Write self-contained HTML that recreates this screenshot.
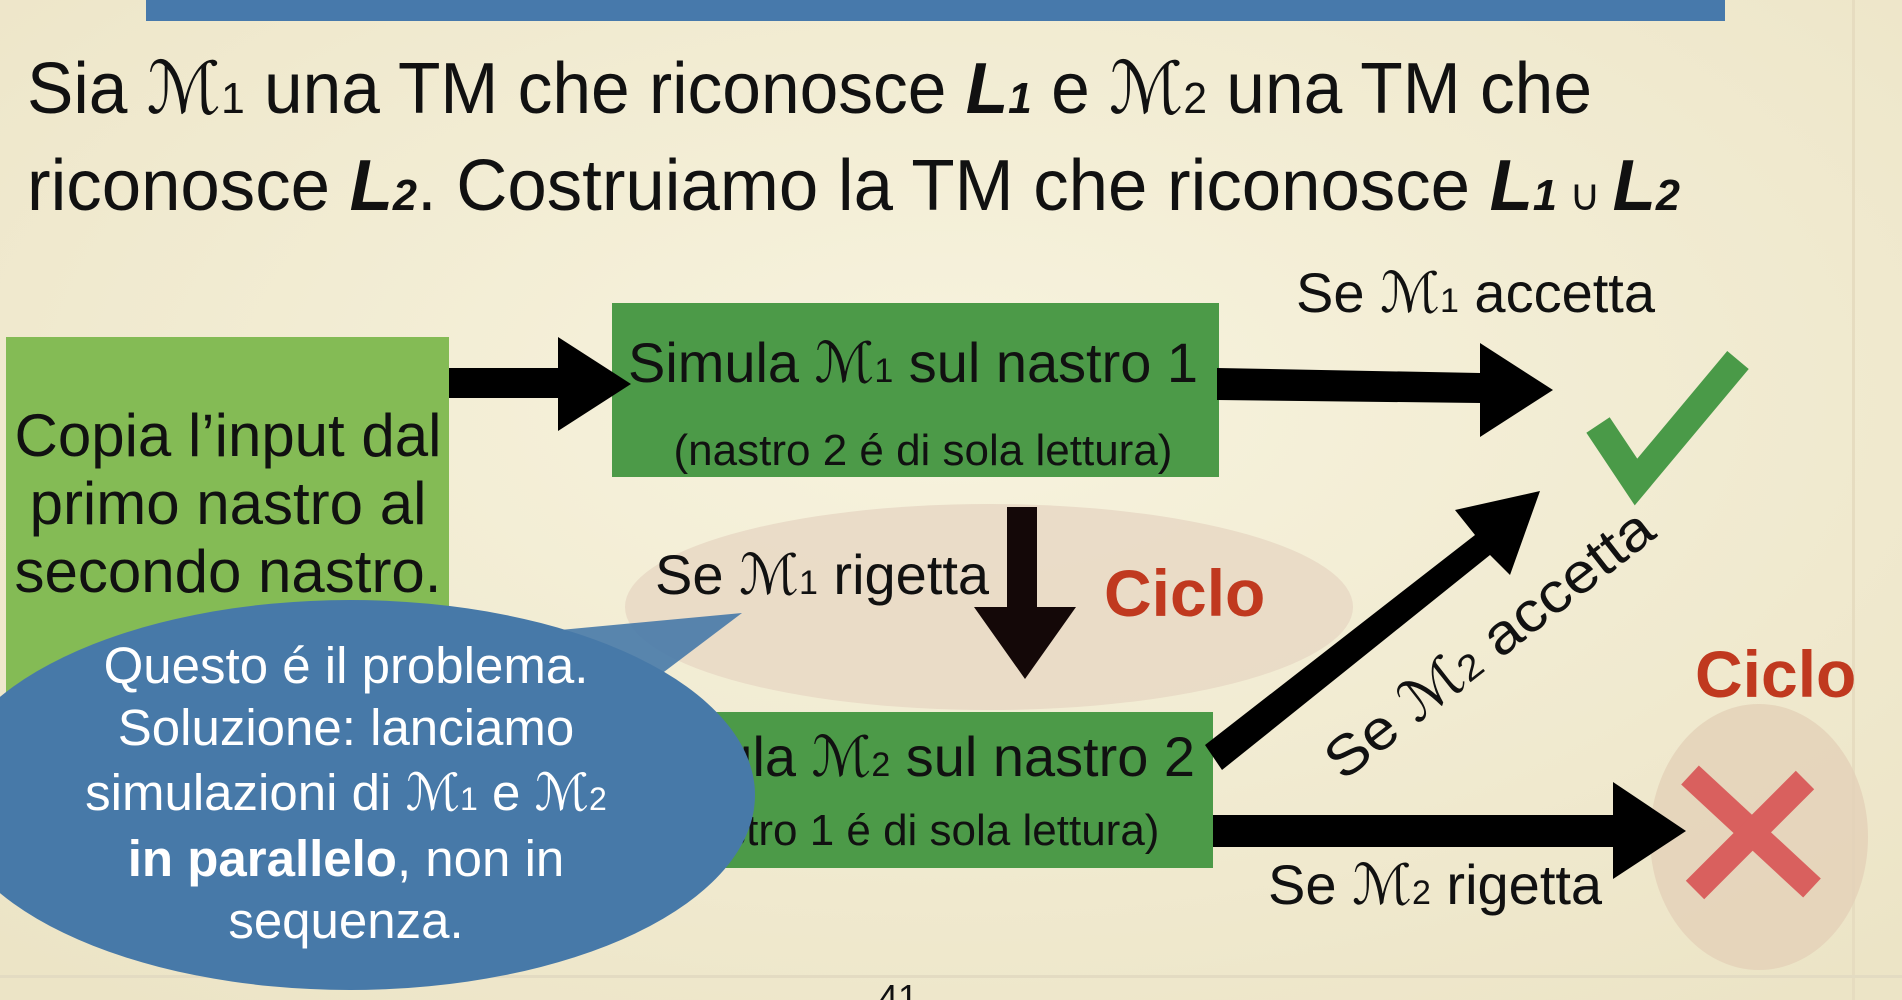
<!DOCTYPE html>
<html><head><meta charset="utf-8"><style>
html,body{margin:0;padding:0;width:1902px;height:1000px;overflow:hidden;background:#f2edd6;}
svg{display:block}
text{font-family:"Liberation Sans","DejaVu Sans",sans-serif;}
.m{font-family:"DejaVu Serif","DejaVu Sans",serif;font-style:italic;}
</style></head><body>
<svg width="1902" height="1000" viewBox="0 0 1902 1000" xmlns="http://www.w3.org/2000/svg">
<defs>
<radialGradient id="bg" cx="50%" cy="40%" r="75%"><stop offset="0" stop-color="#f7f3de"/><stop offset="1" stop-color="#ece4c6"/></radialGradient>
</defs>
<rect width="1902" height="1000" fill="url(#bg)"/>
<rect x="1852" y="0" width="3" height="1000" fill="#e6dcc0"/>
<rect x="0" y="975" width="1902" height="3" fill="#e3dbc2"/>
<rect x="146" y="0" width="1579" height="21" fill="#4779ab"/>
<text x="27" y="113" font-size="72" fill="#111" textLength="1565" lengthAdjust="spacingAndGlyphs">Sia <tspan class="m">ℳ</tspan><tspan font-size="44">1</tspan> una TM che riconosce <tspan font-weight="bold" font-style="italic">L</tspan><tspan font-weight="bold" font-style="italic" font-size="44">1</tspan> e <tspan class="m">ℳ</tspan><tspan font-size="44">2</tspan> una TM che</text>
<text x="27" y="210" font-size="72" fill="#111" textLength="1653" lengthAdjust="spacingAndGlyphs">riconosce <tspan font-weight="bold" font-style="italic">L</tspan><tspan font-weight="bold" font-style="italic" font-size="44">2</tspan>. Costruiamo la TM che riconosce <tspan font-weight="bold" font-style="italic">L</tspan><tspan font-weight="bold" font-style="italic" font-size="44">1</tspan><tspan font-size="44"> ∪ </tspan><tspan font-weight="bold" font-style="italic">L</tspan><tspan font-weight="bold" font-style="italic" font-size="44">2</tspan></text>

<ellipse cx="989" cy="607" rx="364" ry="103" fill="#e8d8c4" opacity="0.85"/>
<ellipse cx="1759" cy="837" rx="109" ry="133" fill="#e3d1b8" opacity="0.8"/>

<rect x="6" y="337" width="443" height="400" fill="#84bb55"/>
<g font-size="60" fill="#111" text-anchor="middle">
<text x="228" y="456">Copia l’input dal</text>
<text x="228" y="524">primo nastro al</text>
<text x="228" y="592">secondo nastro.</text>
</g>

<rect x="612" y="303" width="607" height="174" fill="#4c9a48"/>
<text x="628" y="382" font-size="56" fill="#111" textLength="570" lengthAdjust="spacingAndGlyphs">Simula <tspan class="m">ℳ</tspan><tspan font-size="34">1</tspan> sul nastro 1</text>
<text x="923" y="465" font-size="44" fill="#111" text-anchor="middle">(nastro 2 é di sola lettura)</text>

<rect x="612" y="712" width="601" height="156" fill="#4c9a48"/>
<text x="625" y="776" font-size="56" fill="#111" textLength="570" lengthAdjust="spacingAndGlyphs">Simula <tspan class="m">ℳ</tspan><tspan font-size="34">2</tspan> sul nastro 2</text>
<text x="910" y="845" font-size="44" fill="#111" text-anchor="middle">(nastro 1 é di sola lettura)</text>

<polygon points="449,368 558,368 558,337 631,384 558,431 558,398 449,398" fill="#000"/>
<polygon points="1217,368 1480,373 1480,343 1553,390 1480,437 1480,403 1217,400" fill="#000"/>
<polygon points="1007,507 1037,507 1037,607 1076,607 1025,679 974,607 1007,607" fill="#140808"/>
<polygon points="1205,745 1475,535 1455,510 1540,491 1510,575 1490,555 1222,770" fill="#000"/>
<polygon points="1213,815 1613,815 1613,782 1686,831 1613,879 1613,847 1213,847" fill="#000"/>

<text x="1296" y="312" font-size="56" fill="#111">Se <tspan class="m">ℳ</tspan><tspan font-size="34">1</tspan> accetta</text>
<text x="655" y="594" font-size="56" fill="#111">Se <tspan class="m">ℳ</tspan><tspan font-size="34">1</tspan> rigetta</text>
<text x="1104" y="616" font-size="66" font-weight="bold" fill="#c0391f">Ciclo</text>
<text x="1695" y="697" font-size="66" font-weight="bold" fill="#c0391f">Ciclo</text>
<text x="1268" y="904" font-size="56" fill="#111">Se <tspan class="m">ℳ</tspan><tspan font-size="34">2</tspan> rigetta</text>
<text transform="translate(1343,782) rotate(-38)" font-size="56" fill="#111" textLength="400" lengthAdjust="spacingAndGlyphs">Se <tspan class="m">ℳ</tspan><tspan font-size="36">2</tspan> accetta</text>

<path d="M1598,425 L1636,482 L1738,360" fill="none" stroke="#4a9a48" stroke-width="28" stroke-linejoin="miter"/>
<g stroke="#d9605e" stroke-width="26" stroke-linecap="butt">
<line x1="1690" y1="775" x2="1812" y2="888"/>
<line x1="1805" y1="780" x2="1695" y2="890"/>
</g>

<path d="M742,613 L640,690 L560,630 Z" fill="#4779a8" opacity="0.9"/>
<ellipse cx="350" cy="795" rx="405" ry="195" fill="#4779a8"/>
<g font-size="51" fill="#fff" text-anchor="middle">
<text x="346" y="683">Questo é il problema.</text>
<text x="346" y="745">Soluzione: lanciamo</text>
<text x="346" y="810">simulazioni di <tspan class="m">ℳ</tspan><tspan font-size="32">1</tspan> e <tspan class="m">ℳ</tspan><tspan font-size="32">2</tspan></text>
<text x="346" y="876"><tspan font-weight="bold">in parallelo</tspan>, non in</text>
<text x="346" y="938">sequenza.</text>
</g>
<text x="898" y="1010" font-size="36" fill="#111" text-anchor="middle">41</text>
</svg>
</body></html>
